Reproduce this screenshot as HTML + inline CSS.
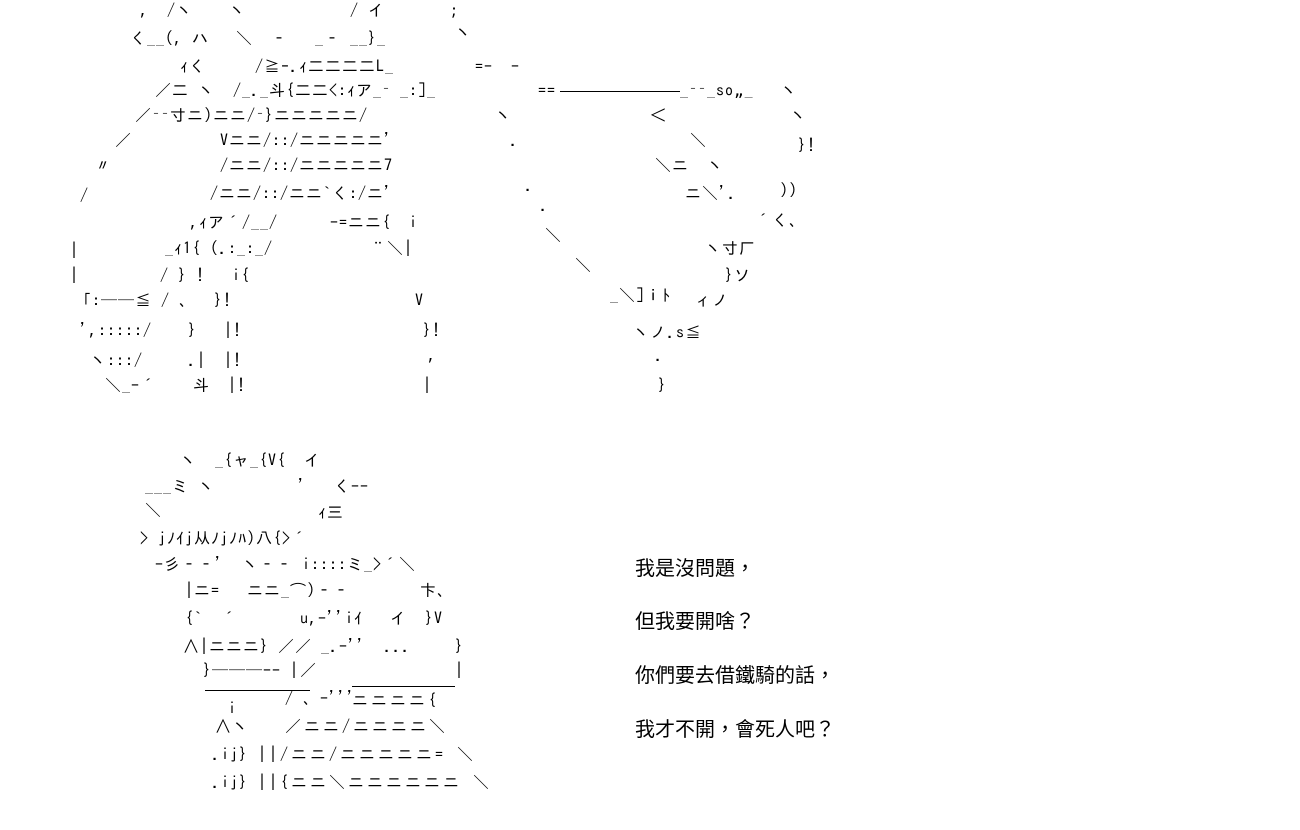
<!DOCTYPE html>
<html><head><meta charset="utf-8"><style>
body{margin:0;width:1300px;height:830px;background:#fff;position:relative;overflow:hidden;font-family:"Liberation Sans","Noto Sans CJK JP",sans-serif;color:#000}
.a{position:absolute;font-size:16px;line-height:20px;white-space:pre;font-family:"IPAGothic","WenQuanYi Zen Hei",monospace;letter-spacing:1px}
.w{letter-spacing:3px}
.l{position:absolute;height:0;border-top:1px solid #000}
.t{position:absolute;left:635px;font-size:20px;line-height:24px;font-family:"Liberation Sans","Noto Sans CJK TC",sans-serif;white-space:pre}
</style></head><body>
<div class="a" style="left:140px;top:0">,  /ヽ    ヽ</div>
<div class="a" style="left:350px;top:0">/ イ</div>
<div class="a" style="left:450px;top:0">;</div>
<div class="a" style="left:130px;top:28px">く__(, ハ   ＼  ‐   _‐ __}_</div>
<div class="a" style="left:455px;top:22px">ヽ</div>
<div class="a" style="left:180px;top:56px">ｨく</div>
<div class="a" style="left:255px;top:56px">/≧ｰ.ｨ二二二二L_</div>
<div class="a" style="left:475px;top:56px">=-  -</div>
<div class="a" style="left:155px;top:80px">／二 ヽ  /_._斗{二二<:ｨア_ ̄ _:]_</div>
<div class="a" style="left:538px;top:80px">==</div>
<div class="l" style="left:560px;top:91px;width:120px"></div>
<div class="a" style="left:680px;top:80px">_ ̄ ̄_so„_   ヽ</div>
<div class="a" style="left:135px;top:105px">／ ̄ ̄寸ニ)ニニ/ ̄}ニニニニニ/</div>
<div class="a" style="left:495px;top:105px">ヽ</div>
<div class="a" style="left:650px;top:105px">＜</div>
<div class="a" style="left:790px;top:105px">ヽ</div>
<div class="a" style="left:115px;top:130px">／</div>
<div class="a" style="left:220px;top:130px">Vニニ/::/ニニニニニ'</div>
<div class="a" style="left:510px;top:130px">.</div>
<div class="a" style="left:690px;top:130px">＼</div>
<div class="a" style="left:798px;top:135px">}!</div>
<div class="a" style="left:95px;top:155px">〃</div>
<div class="a" style="left:220px;top:155px">/ニニ/::/ニニニニニ7</div>
<div class="a" style="left:655px;top:155px">＼ニ  ヽ</div>
<div class="a" style="left:80px;top:185px">/</div>
<div class="a" style="left:210px;top:183px">/ニニ/::/ニニ`く:/ニ'</div>
<div class="a" style="left:525px;top:175px">.</div>
<div class="a" style="left:540px;top:195px">.</div>
<div class="a" style="left:685px;top:183px">ニ＼'.</div>
<div class="a" style="left:780px;top:180px">))</div>
<div class="a" style="left:190px;top:212px">,ｨア´/__/</div>
<div class="a" style="left:330px;top:212px">-=ニニ{  i</div>
<div class="a" style="left:755px;top:210px">´く、</div>
<div class="a" style="left:70px;top:240px">|</div>
<div class="a" style="left:165px;top:238px">_ｨ1{ (.:_:_/</div>
<div class="a" style="left:370px;top:238px">¨＼|</div>
<div class="a" style="left:545px;top:225px">＼</div>
<div class="a" style="left:705px;top:238px">ヽ寸厂</div>
<div class="a" style="left:70px;top:265px">|</div>
<div class="a" style="left:160px;top:265px">/ } !   i{</div>
<div class="a" style="left:575px;top:255px">＼</div>
<div class="a" style="left:725px;top:265px">}ソ</div>
<div class="a" style="left:75px;top:290px">「:──≦ / 、  }!</div>
<div class="a" style="left:415px;top:290px">V</div>
<div class="a" style="left:610px;top:285px">_＼]ｉﾄ</div>
<div class="a" style="left:695px;top:290px">ィノ</div>
<div class="a" style="left:80px;top:320px">',:::::/    }   |!</div>
<div class="a" style="left:423px;top:320px">}!</div>
<div class="a" style="left:633px;top:322px">ヽノ.s≦</div>
<div class="a" style="left:90px;top:350px">ヽ:::/     .|  |!</div>
<div class="a" style="left:428px;top:345px">,</div>
<div class="a" style="left:655px;top:345px">.</div>
<div class="a" style="left:105px;top:375px">＼_-´    斗  |!</div>
<div class="a" style="left:423px;top:375px">|</div>
<div class="a" style="left:658px;top:375px">}</div>

<div class="a" style="left:180px;top:450px">ヽ  _{ャ_{V{  イ</div>
<div class="a" style="left:145px;top:476px">___ミ ヽ</div>
<div class="a" style="left:298px;top:476px">'   く--</div>
<div class="a" style="left:145px;top:500px">＼</div>
<div class="a" style="left:318px;top:502px">ｨ三</div>
<div class="a" style="left:140px;top:528px">> jﾉｲj从ﾉjﾉﾊ)八{>´</div>
<div class="a" style="left:155px;top:554px">-彡‐‐'  ヽ‐‐ i::::ミ_>´＼</div>
<div class="a" style="left:185px;top:580px">|ニ=   ニニ_⌒)‐‐</div>
<div class="a" style="left:420px;top:580px">卞、</div>
<div class="a" style="left:185px;top:608px">{`  ´</div>
<div class="a" style="left:300px;top:608px">u,-''iｲ   イ  }V</div>
<div class="a" style="left:183px;top:636px">∧|ニニニ} ／／ _.-''  ...</div>
<div class="a" style="left:455px;top:636px">}</div>
<div class="a" style="left:203px;top:660px">}───-- |</div>
<div class="a" style="left:300px;top:660px">／</div>
<div class="a" style="left:455px;top:660px">|</div>
<div class="l" style="left:205px;top:690px;width:105px"></div>
<div class="l" style="left:352px;top:686px;width:103px"></div>
<div class="a" style="left:285px;top:688px">/ 、-'''</div>
<div class="a w" style="left:352px;top:690px">ニニニニ{</div>
<div class="a" style="left:228px;top:698px">i</div>
<div class="a" style="left:215px;top:716px">∧ヽ</div>
<div class="a w" style="left:285px;top:716px">／ニニ/ニニニニ＼</div>
<div class="a" style="left:212px;top:744px">.ij}</div>
<div class="a w" style="left:258px;top:744px">||/ニニ/ニニニニニ= ＼</div>
<div class="a" style="left:212px;top:772px">.ij}</div>
<div class="a w" style="left:258px;top:772px">||{ニニ＼ニニニニニニ ＼</div>

<div class="t" style="top:557px">我是沒問題，</div>
<div class="t" style="top:610px">但我要開啥？</div>
<div class="t" style="top:664px">你們要去借鐵騎的話，</div>
<div class="t" style="top:718px">我才不開，會死人吧？</div>
</body></html>
